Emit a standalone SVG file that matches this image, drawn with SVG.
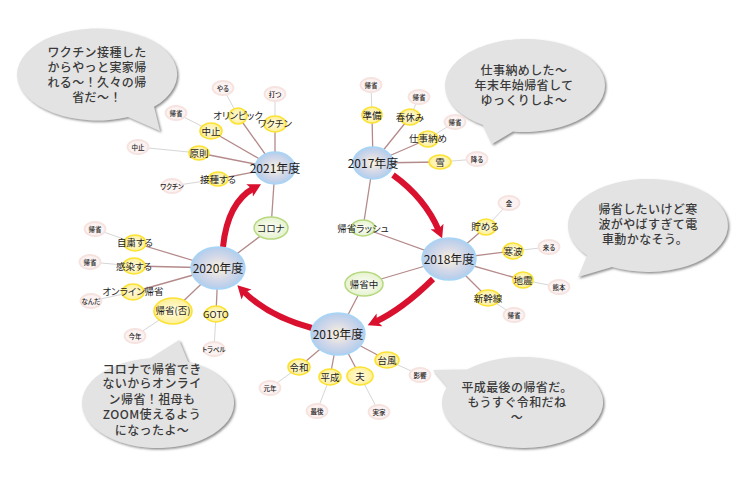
<svg xmlns="http://www.w3.org/2000/svg" width="750" height="488" viewBox="0 0 750 488">
<style>
text{font-family:"Noto Sans CJK JP","Noto Sans",sans-serif;text-anchor:middle;fill:#1c1c1c;font-feature-settings:"palt"}
.y text{font-size:9.5px}.p text{font-size:6.5px;font-weight:500}.g text{font-size:9.5px}.c text{font-size:12px}
.b text{font-size:12px;fill:#3a3a3a;letter-spacing:.4px;font-weight:500;font-feature-settings:normal}
.y ellipse{fill:url(#yg);stroke:#fbe233;stroke-width:1.6}
.g ellipse{fill:url(#gg);stroke:#b6d97f;stroke-width:1.5}
.p ellipse{fill:#fbf2f1;stroke:#f6e2df;stroke-width:1.8}
.c ellipse{fill:url(#bg);stroke:#a6d5f7;stroke-width:1.4}
.b path{fill:#e3e3e3;filter:url(#sh)}
.l1{stroke:#b58a8a;stroke-width:1.3;fill:none}
.l2{stroke:#d6d6d6;stroke-width:1;fill:none}
.a{stroke:#d9112f;stroke-width:6;fill:none;marker-end:url(#ah)}
</style>
<defs>
<radialGradient id="bg"><stop offset="0" stop-color="#fdf3dc"/><stop offset=".55" stop-color="#d5d9e8"/><stop offset="1" stop-color="#b3cdec"/></radialGradient>
<radialGradient id="yg"><stop offset="0" stop-color="#fffbe6"/><stop offset="1" stop-color="#ffef96"/></radialGradient>
<radialGradient id="gg"><stop offset="0" stop-color="#fdfef9"/><stop offset="1" stop-color="#e6f2cf"/></radialGradient>
<filter id="sh" x="-10%" y="-10%" width="125%" height="125%"><feDropShadow dx="1.5" dy="1.5" stdDeviation="0.8" flood-color="#777" flood-opacity=".85"/></filter>
<marker id="ah" markerUnits="userSpaceOnUse" markerWidth="18" markerHeight="18" refX="5" refY="8" orient="auto"><path d="M0 1L13 8L0 15L3 8Z" fill="#d9112f"/></marker>
</defs>
<g id="connectors">
<g class="l2">
<path d="M211 131L176 113M238 116L223 88M275 124L275 94M199 153L138 147M218 179L172 186"/>
<path d="M372 115L371 85M410 117L419 97M428 139L455 122M440 162L477 159M486 227L509 203M513 251L549 247M523 280L559 287M488 298L514 315"/>
<path d="M135 243L95 229M134 266L90 262M133 292L91 301M173 311L135 336M216 314L214 349"/>
<path d="M299 367L270 388M330 377L317 411M360 376L379 412M387 360L420 375"/>
</g>
<g class="l1">
<path d="M275 168L211 131M275 168L238 116M275 168L275 124M275 168L199 153M275 168L218 179M275 168L271 228M271 228L218 268"/>
<path d="M373 163L372 115M373 163L410 117M373 163L428 139M373 163L440 162M373 163L363 228M363 228L449 259"/>
<path d="M449 259L486 227M449 259L513 251M449 259L523 280M449 259L488 298M449 259L364 284M364 284L338 334"/>
<path d="M218 268L135 243M218 268L134 266M218 268L133 292M218 268L173 311M218 268L216 314"/>
<path d="M338 334L299 367M338 334L330 377M338 334L360 376M338 334L387 360"/>
</g>
<path class="a" d="M393 175Q425 198 439 231"/>
<path class="a" d="M433 279Q402 309.5 375 322"/>
<path class="a" d="M312 328Q268.5 316.5 243 291"/>
<path class="a" d="M223 247Q227.5 202.5 254 188"/>
</g>
<g id="bubble1" class="b"><path d="M128 116.9A80 46 0 1 1 154 106.8L160 131Z"/><text x="97" y="56.5">ワクチン接種した</text><text x="97" y="71.5">からやっと実家帰</text><text x="97" y="86.5">れる～！久々の帰</text><text x="97" y="102">省だ～！</text></g>
<g id="bubble2" class="b"><path d="M483 125.1A80 46.5 0 1 1 513 131.5L492 144Z"/><text x="524" y="74.5">仕事納めした～</text><text x="524" y="89.5">年末年始帰省して</text><text x="524" y="104.5">ゆっくりしよ～</text></g>
<g id="bubble3" class="b"><path d="M587 255.6A80 46.5 0 1 1 612 267L578 277Z"/><text x="648" y="213.5">帰省したいけど寒</text><text x="648" y="228.5">波がやばすぎて電</text><text x="645" y="243.5">車動かなそう。</text></g>
<g id="bubble4" class="b"><path d="M188 361.7A76 45 0 1 1 150 358.3L179 340Z"/><text x="152" y="373.5">コロナで帰省でき</text><text x="152" y="388">ないからオンライ</text><text x="152" y="403.5">ン帰省！祖母も</text><text x="152" y="419">ZOOM使えるよう</text><text x="152" y="434.5">になったよ～</text></g>
<g id="bubble5" class="b"><path d="M467 369.5A80.5 45.5 0 1 1 447 386.7L433 370Z"/><text x="517" y="391.5">平成最後の帰省だ。</text><text x="517" y="407">もうすぐ令和だね</text><text x="517" y="421.5">～</text></g>
<g id="n2021" class="c"><ellipse cx="275" cy="168" rx="20" ry="16"/><text x="275" y="172.5">2021年度</text></g>
<g id="n2017" class="c"><ellipse cx="373" cy="163" rx="20" ry="16"/><text x="373" y="167.5">2017年度</text></g>
<g id="n2018" class="c"><ellipse cx="449" cy="259" rx="27" ry="21"/><text x="449" y="263.5">2018年度</text></g>
<g id="n2020" class="c"><ellipse cx="218" cy="268" rx="27" ry="21"/><text x="218" y="272.5">2020年度</text></g>
<g id="n2019" class="c"><ellipse cx="338" cy="334" rx="27" ry="21"/><text x="338" y="338.5">2019年度</text></g>
<g id="nA1" class="g"><ellipse cx="271" cy="228" rx="17" ry="11"/><text x="271" y="231.5">コロナ</text></g>
<g id="nA2" class="g"><ellipse cx="363" cy="228" rx="12" ry="8"/><text x="363" y="231.5">帰省ラッシュ</text></g>
<g id="nA3" class="g"><ellipse cx="364" cy="284" rx="19" ry="12"/><text x="364" y="287.5">帰省中</text></g>
<g id="y1" class="y"><ellipse cx="211" cy="131" rx="11" ry="8"/><text x="211" y="134.5">中止</text></g>
<g id="y2" class="y"><ellipse cx="238" cy="116" rx="9" ry="8"/><text x="238" y="118.5">オリンピック</text></g>
<g id="y3" class="y"><ellipse cx="275" cy="124" rx="11" ry="8"/><text x="275" y="127">ワクチン</text></g>
<g id="y4" class="y"><ellipse cx="199" cy="153" rx="10" ry="7"/><text x="199" y="156.5">原則</text></g>
<g id="y5" class="y"><ellipse cx="218" cy="179" rx="10" ry="7"/><text x="218" y="182.5">接種する</text></g>
<g id="y6" class="y"><ellipse cx="372" cy="115" rx="10" ry="8"/><text x="372" y="118.5">準備</text></g>
<g id="y7" class="y"><ellipse cx="410" cy="117" rx="10" ry="8"/><text x="410" y="120.5">春休み</text></g>
<g id="y8" class="y"><ellipse cx="428" cy="139" rx="10" ry="8"/><text x="428" y="141.5">仕事納め</text></g>
<g id="y9" class="y"><ellipse cx="440" cy="162" rx="11" ry="7"/><text x="440" y="165.5">雪</text></g>
<g id="y10" class="y"><ellipse cx="486" cy="227" rx="10" ry="8"/><text x="485" y="230">貯める</text></g>
<g id="y11" class="y"><ellipse cx="513" cy="251" rx="10" ry="8"/><text x="513" y="254.5">寒波</text></g>
<g id="y12" class="y"><ellipse cx="523" cy="280" rx="10" ry="8"/><text x="523" y="283.5">地震</text></g>
<g id="y13" class="y"><ellipse cx="488" cy="298" rx="12" ry="8"/><text x="488" y="301.5">新幹線</text></g>
<g id="y14" class="y"><ellipse cx="135" cy="243" rx="11" ry="8"/><text x="135" y="246">自粛する</text></g>
<g id="y15" class="y"><ellipse cx="134" cy="266" rx="11" ry="8"/><text x="134" y="269.5">感染する</text></g>
<g id="y16" class="y"><ellipse cx="133" cy="292" rx="11" ry="8"/><text x="133" y="294.5">オンライン帰省</text></g>
<g id="y17" class="y"><ellipse cx="173" cy="311" rx="19" ry="13"/><text x="173" y="314">帰省(否)</text></g>
<g id="y18" class="y"><ellipse cx="216" cy="314" rx="11" ry="8"/><text x="216" y="317.5">GOTO</text></g>
<g id="y19" class="y"><ellipse cx="299" cy="367" rx="11" ry="8"/><text x="299" y="370.5">令和</text></g>
<g id="y20" class="y"><ellipse cx="330" cy="377" rx="11" ry="8"/><text x="330" y="380.5">平成</text></g>
<g id="y21" class="y"><ellipse cx="360" cy="376" rx="13" ry="9"/><text x="360" y="379.5">夫</text></g>
<g id="y22" class="y"><ellipse cx="387" cy="360" rx="12" ry="8"/><text x="387" y="363.5">台風</text></g>
<g id="p1" class="p"><ellipse cx="223" cy="88" rx="10.5" ry="7"/><text x="223" y="90.5">やる</text></g>
<g id="p2" class="p"><ellipse cx="275" cy="94" rx="10.5" ry="7"/><text x="275" y="96.5">打つ</text></g>
<g id="p3" class="p"><ellipse cx="176" cy="113" rx="10.5" ry="7"/><text x="176" y="115.5">帰省</text></g>
<g id="p4" class="p"><ellipse cx="138" cy="147" rx="10.5" ry="7"/><text x="138" y="149.5">中止</text></g>
<g id="p5" class="p"><ellipse cx="172" cy="186" rx="10.5" ry="7"/><text x="172" y="188.5">ワクチン</text></g>
<g id="p6" class="p"><ellipse cx="371" cy="85" rx="10.5" ry="7"/><text x="371" y="87.5">帰省</text></g>
<g id="p7" class="p"><ellipse cx="419" cy="97" rx="10.5" ry="7"/><text x="419" y="99.5">帰省</text></g>
<g id="p8" class="p"><ellipse cx="455" cy="122" rx="10.5" ry="7"/><text x="455" y="124.5">帰省</text></g>
<g id="p9" class="p"><ellipse cx="477" cy="159" rx="10.5" ry="7"/><text x="477" y="161.5">降る</text></g>
<g id="p10" class="p"><ellipse cx="509" cy="203" rx="10.5" ry="7"/><text x="509" y="205.5">金</text></g>
<g id="p11" class="p"><ellipse cx="549" cy="247" rx="10.5" ry="7"/><text x="549" y="249.5">来る</text></g>
<g id="p12" class="p"><ellipse cx="559" cy="287" rx="10.5" ry="7"/><text x="559" y="289.5">熊本</text></g>
<g id="p13" class="p"><ellipse cx="514" cy="315" rx="10.5" ry="7"/><text x="514" y="317.5">帰省</text></g>
<g id="p14" class="p"><ellipse cx="95" cy="229" rx="10.5" ry="7"/><text x="95" y="231.5">帰省</text></g>
<g id="p15" class="p"><ellipse cx="90" cy="262" rx="10.5" ry="7"/><text x="90" y="264.5">帰省</text></g>
<g id="p16" class="p"><ellipse cx="91" cy="301" rx="10.5" ry="7"/><text x="91" y="303.5">なんだ</text></g>
<g id="p17" class="p"><ellipse cx="135" cy="336" rx="10.5" ry="7"/><text x="135" y="338.5">今年</text></g>
<g id="p18" class="p"><ellipse cx="214" cy="349" rx="10.5" ry="7"/><text x="214" y="351.5">トラベル</text></g>
<g id="p19" class="p"><ellipse cx="270" cy="388" rx="10.5" ry="7"/><text x="270" y="390.5">元年</text></g>
<g id="p20" class="p"><ellipse cx="317" cy="411" rx="10.5" ry="7"/><text x="317" y="413.5">最後</text></g>
<g id="p21" class="p"><ellipse cx="379" cy="412" rx="10.5" ry="7"/><text x="379" y="414.5">実家</text></g>
<g id="p22" class="p"><ellipse cx="420" cy="375" rx="10.5" ry="7"/><text x="420" y="377.5">影響</text></g>
</svg>
